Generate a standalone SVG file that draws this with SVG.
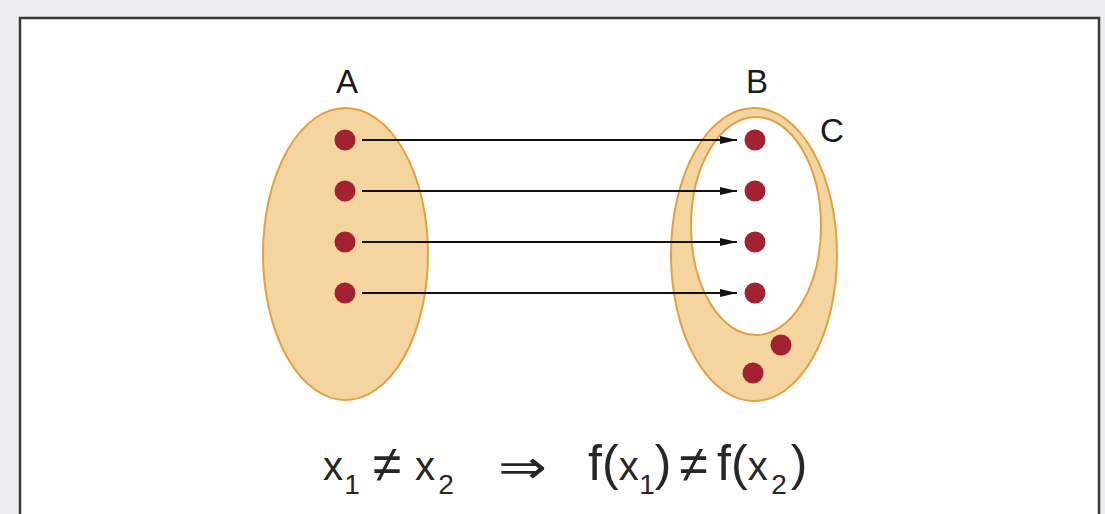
<svg xmlns="http://www.w3.org/2000/svg" width="1105" height="514" viewBox="0 0 1105 514">
<defs>
<style>
.set{fill:#F4D59F;stroke:#E2A043;stroke-width:2}
.inner{fill:#FFFFFF;stroke:#E2A043;stroke-width:2}
.dot{fill:#A32232}
.lbl{font-family:"Liberation Sans",Arial,sans-serif;font-size:33px;fill:#1a1a1a;text-anchor:middle}
.f{font-family:"Liberation Sans",Arial,sans-serif;fill:#262626;text-anchor:middle}
.m{font-size:40px}
.b{font-size:50px}
.n{font-size:52px}
.s{font-size:28px}
.arr{stroke:#111;stroke-width:2;fill:none;marker-end:url(#ah)}
</style>
<marker id="ah" viewBox="0 0 17 8" refX="17" refY="4" markerWidth="17" markerHeight="8" markerUnits="userSpaceOnUse" orient="auto">
<path d="M0,0 L17,4 L0,8 Z" fill="#111"/>
</marker>
</defs>
<rect x="0" y="0" width="1105" height="514" fill="#ECEEF0"/>
<rect x="20" y="18" width="1079" height="510" fill="#FFFFFF" stroke="#3a3a3a" stroke-width="2.5"/>
<g id="setA">
<ellipse class="set" cx="345.5" cy="254" rx="82.5" ry="146"/>
<circle class="dot" cx="345" cy="140" r="10.5"/>
<circle class="dot" cx="345" cy="191" r="10.5"/>
<circle class="dot" cx="345" cy="242" r="10.5"/>
<circle class="dot" cx="345" cy="293" r="10.5"/>
<text class="lbl" x="347" y="93">A</text>
</g>
<g id="setC">
<ellipse class="set" cx="754" cy="254.5" rx="83" ry="146.5"/>
<circle class="dot" cx="781" cy="345" r="10.5"/>
<circle class="dot" cx="753" cy="373" r="10.5"/>
<text class="lbl" x="832" y="142">C</text>
</g>
<g id="setB">
<ellipse class="inner" cx="756" cy="226" rx="65" ry="109"/>
<circle class="dot" cx="755" cy="140" r="10.5"/>
<circle class="dot" cx="755" cy="191" r="10.5"/>
<circle class="dot" cx="755" cy="242" r="10.5"/>
<circle class="dot" cx="755" cy="293" r="10.5"/>
<text class="lbl" x="757" y="93">B</text>
</g>
<g id="connectors">
<line class="arr" x1="362" y1="140" x2="737" y2="140"/>
<line class="arr" x1="362" y1="191" x2="737" y2="191"/>
<line class="arr" x1="362" y1="242" x2="737" y2="242"/>
<line class="arr" x1="362" y1="293" x2="737" y2="293"/>
</g>
<g id="formula">
<text class="f" y="480"><tspan class="m" x="333">x</tspan><tspan class="s" x="352" y="494">1</tspan><tspan class="n" x="387" y="482">≠</tspan><tspan class="m" x="425" y="480">x</tspan><tspan class="s" x="446" y="494">2</tspan></text>
<text x="498" y="483" style="font-family:'DejaVu Sans',sans-serif;font-size:46px;fill:#262626" textLength="49" lengthAdjust="spacingAndGlyphs">⇒</text>
<text class="f" y="480"><tspan class="b" x="595">f</tspan><tspan class="b" x="610.4">(</tspan><tspan class="m" x="628.8">x</tspan><tspan class="s" x="647" y="494">1</tspan><tspan class="b" x="663.2" y="480">)</tspan><tspan class="n" x="693.5" y="482">≠</tspan><tspan class="b" x="724" y="480">f</tspan><tspan class="b" x="739.4">(</tspan><tspan class="m" x="757.8">x</tspan><tspan class="s" x="779" y="494">2</tspan><tspan class="b" x="799" y="480">)</tspan></text>
</g>
</svg>
